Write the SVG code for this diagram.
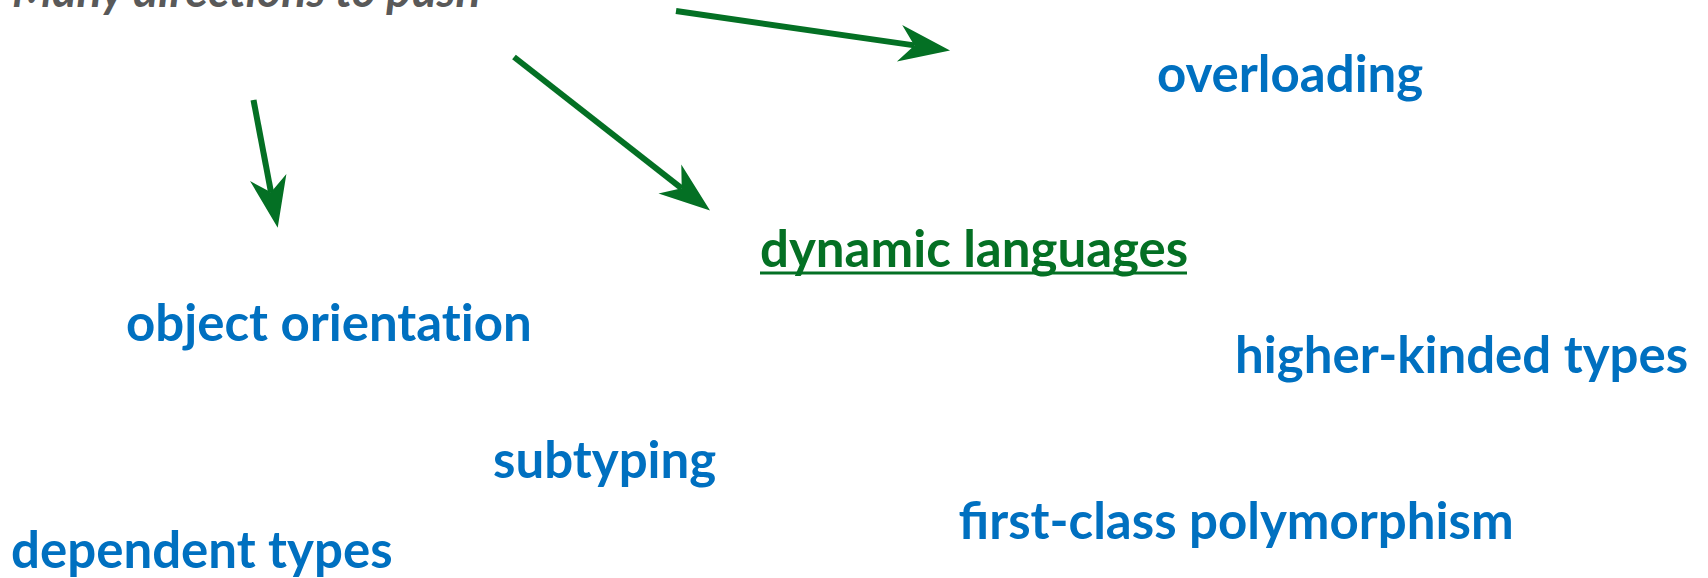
<svg xmlns="http://www.w3.org/2000/svg" width="1708" height="578" viewBox="0 0 1708 578">
  <style>
    .topic { font-family: Lato, "Noto Sans", sans-serif; font-weight: 700; font-size: 51px; fill: #0070c0; }
    .title { font-family: Lato, "Noto Sans", sans-serif; font-weight: 700; font-style: italic; font-size: 46.5px; fill: #595959; }
    .link { font-family: Lato, "Noto Sans", sans-serif; font-weight: 700; font-size: 51px; fill: #047024; }
    .plain { font-variant-ligatures: no-common-ligatures; }
    .arrow { stroke: #047024; stroke-width: 6; fill: none; marker-end: url(#head); }
  </style>
  <defs>
    <!-- swept-back arrowhead; reference point is the notch where the shaft ends -->
    <marker id="head" markerUnits="userSpaceOnUse" viewBox="-20 -25 60 50" markerWidth="60" markerHeight="50" refX="0" refY="0" orient="auto">
      <path d="M36,0 L-15,-18.5 L0,0 L-15,18.5 Z" fill="#047024"/>
    </marker>
  </defs>
  <rect width="1708" height="578" fill="#ffffff"/>

  <g id="title">
    <text class="title" x="12" y="7">Many directions to push</text>
  </g>

  <g id="connectors">
    <line class="arrow" x1="676" y1="11" x2="914.4" y2="45.4"/>
    <line class="arrow" x1="253.5" y1="100" x2="271.0" y2="192.3"/>
    <line class="arrow" x1="514" y1="57" x2="681.7" y2="188.3"/>
  </g>

  <g id="overloading">
    <text class="topic" x="1157" y="91.5">overloading</text>
  </g>
  <g id="dynamic-languages">
    <text class="link" x="760" y="266.7">dynamic languages</text>
    <rect x="760" y="271.5" width="427" height="3" fill="#047024"/>
  </g>
  <g id="object-orientation">
    <text class="topic plain" x="126" y="340.7">object orientation</text>
  </g>
  <g id="higher-kinded-types">
    <text class="topic" x="1235" y="372.5">higher-kinded types</text>
  </g>
  <g id="subtyping">
    <text class="topic" x="493" y="478">subtyping</text>
  </g>
  <g id="first-class-polymorphism">
    <text class="topic" x="958.6" y="539">first-class polymorphism</text>
  </g>
  <g id="dependent-types">
    <text class="topic" x="11" y="567.5">dependent types</text>
  </g>
</svg>
